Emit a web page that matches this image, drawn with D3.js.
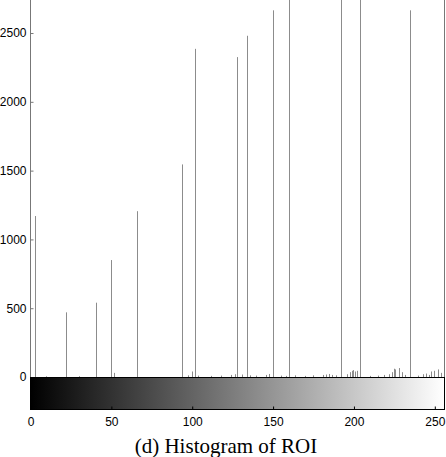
<!DOCTYPE html>
<html>
<head>
<meta charset="utf-8">
<script src="https://cdn.jsdelivr.net/npm/d3@7"></script>
<style>
html,body{margin:0;padding:0;background:#fff;}
svg{display:block;}
</style>
</head>
<body>
<svg id="chart" width="446" height="457"></svg>
<script>
// Histogram bins (gray level) and pixel counts
const majorBins   = [3, 22, 41, 50, 66, 94, 102, 128, 134, 150, 160, 192, 204, 235];
const majorCounts = [1170, 470, 540, 850, 1205, 1545, 2385, 2325, 2480, 2665, 2950, 2900, 2950, 2665];
const minorBins   = [10, 30, 52, 98, 100, 104, 112, 118, 124, 127, 131, 136, 140, 146, 148, 155, 158, 164, 170, 175, 181, 183, 185, 187, 189, 196, 198, 199, 200, 201, 202, 210, 215, 219, 222, 224, 225, 226, 228, 230, 232, 240, 243, 245, 247, 248, 250, 252, 254];
const minorCounts = [5, 6, 30, 12, 40, 10, 8, 10, 15, 20, 18, 12, 10, 15, 22, 10, 8, 12, 8, 12, 15, 18, 22, 15, 12, 20, 35, 45, 50, 40, 45, 8, 10, 15, 20, 35, 60, 55, 65, 35, 15, 10, 20, 25, 15, 40, 45, 55, 30];
const xTicks = [0, 50, 100, 150, 200, 250];
const yTicks = [0, 500, 1000, 1500, 2000, 2500];
const caption = "(d) Histogram of ROI";

const svg = d3.select("#chart");
const left = 30, right = 444, base = 377, barBottom = 409;

const x = d3.scaleLinear().domain([0, 256]).range([left, right]);
const y = d3.scaleLinear().domain([0, 2740]).range([base, 0]);

svg.append("defs").append("clipPath").attr("id", "clip")
  .append("rect").attr("x", left).attr("y", 0).attr("width", right - left).attr("height", base);

const g = svg.append("g").attr("clip-path", "url(#clip)");
const bars = majorBins.map((b, i) => ({b, c: majorCounts[i]}))
  .concat(minorBins.map((b, i) => ({b, c: minorCounts[i]})));
g.selectAll("line.bar").data(bars).enter().append("line")
  .attr("class", "bar")
  .attr("x1", d => Math.round(x(d.b)) + 0.5)
  .attr("x2", d => Math.round(x(d.b)) + 0.5)
  .attr("y1", y(0))
  .attr("y2", d => Math.max(0, y(d.c)))
  .attr("stroke", "#8c8c8c")
  .attr("stroke-width", 1);

// axes lines (box)
svg.append("line").attr("x1", left + 0.5).attr("x2", left + 0.5).attr("y1", 0).attr("y2", base)
  .attr("stroke", "#777").attr("stroke-width", 1);
svg.append("line").attr("x1", right + 0.5).attr("x2", right + 0.5).attr("y1", 0).attr("y2", base)
  .attr("stroke", "#777").attr("stroke-width", 1);

// y ticks and labels
const yAxis = d3.axisLeft(y).tickValues(yTicks).tickSize(-3).tickPadding(6).tickFormat(d3.format("d"));
const ya = svg.append("g").attr("transform", `translate(${left + 0.5},0)`).call(yAxis);
ya.select(".domain").remove();
ya.selectAll(".tick line").attr("stroke", "#777");
ya.selectAll(".tick text").attr("font-family", "Liberation Sans, Arial, sans-serif")
  .attr("font-size", 12).attr("fill", "#000").attr("x", -4);

// grayscale colorbar
const grad = svg.select("defs").append("linearGradient").attr("id", "gray")
  .attr("x1", "0%").attr("x2", "100%").attr("y1", "0%").attr("y2", "0%");
grad.append("stop").attr("offset", "0%").attr("stop-color", d3.rgb(0, 0, 0));
grad.append("stop").attr("offset", "100%").attr("stop-color", d3.rgb(255, 255, 255));
svg.append("rect").attr("x", left + 0.5).attr("y", base + 0.5)
  .attr("width", right - left).attr("height", barBottom - base)
  .attr("fill", "url(#gray)").attr("stroke", "#000").attr("stroke-width", 1);

// x ticks and labels
const xAxis = d3.axisBottom(x).tickValues(xTicks).tickSize(-3).tickPadding(8).tickFormat(d3.format("d"));
const xa = svg.append("g").attr("transform", `translate(0.5,${barBottom + 0.5})`).call(xAxis);
xa.select(".domain").remove();
xa.selectAll(".tick line").attr("stroke", "#000");
xa.selectAll(".tick text").attr("font-family", "Liberation Sans, Arial, sans-serif")
  .attr("font-size", 12).attr("fill", "#000");

// caption
svg.append("text").attr("x", 226).attr("y", 453).attr("text-anchor", "middle")
  .attr("font-family", "Liberation Serif, Times New Roman, serif")
  .attr("font-size", 21).attr("fill", "#000").text(caption);
</script>
</body>
</html>
